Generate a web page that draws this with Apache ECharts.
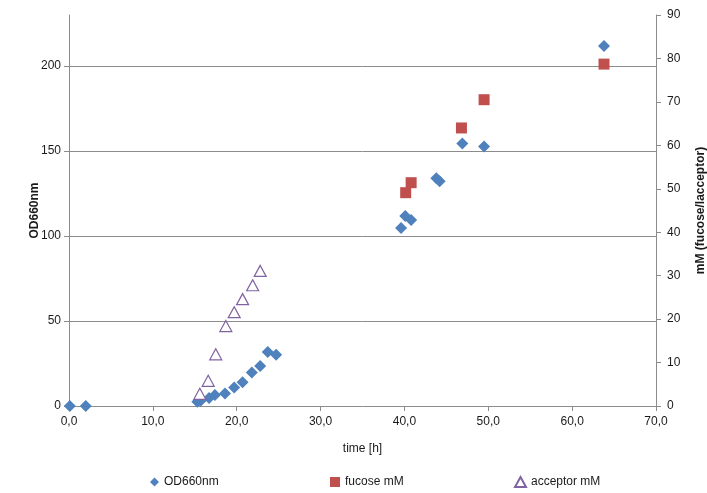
<!DOCTYPE html>
<html>
<head>
<meta charset="utf-8">
<script src="https://cdn.jsdelivr.net/npm/echarts@6/dist/echarts.min.js"></script>
<style>
  html, body { margin: 0; padding: 0; background: #fff; }
  #chart { width: 707px; height: 493px; }
</style>
</head>
<body>
<div id="chart"></div>
<script>
// OD660nm (left axis)
var odTime = [0.1, 2.0, 15.3, 15.7, 16.7, 17.4, 18.6, 19.7, 20.7, 21.8, 22.8, 23.7, 24.7,
              39.6, 40.1, 40.8, 43.8, 44.2, 46.9, 49.5, 63.8];
var odValue = [0, 0, 2.5, 3.1, 4.7, 6.4, 7.4, 10.9, 13.9, 19.7, 23.6, 31.8, 30.2,
               104.7, 111.7, 109.4, 133.9, 132.2, 154.4, 152.6, 211.7];
// fucose mM (right axis)
var fucTime = [40.15, 40.8, 46.8, 49.5, 63.8];
var fucValue = [49.1, 51.4, 64.0, 70.5, 78.7];
// acceptor mM (right axis)
var accTime = [15.6, 16.6, 17.5, 18.7, 19.7, 20.7, 21.9, 22.8];
var accValue = [2.8, 5.8, 11.9, 18.4, 21.6, 24.6, 27.8, 31.1];
// left axis ticks
var odTicks = [0, 50, 100, 150, 200];

function pairs(xs, ys) {
    var out = [];
    xs.forEach(function (x, i) { out.push([x, ys[i]]); });
    return out;
}

var font = 'Liberation Sans, Arial, sans-serif';
var axisGray = '#8c8c8c';
var textCol = '#1a1a1a';

var myChart = echarts.init(document.getElementById('chart'));
myChart.setOption({
    animation: false,
    textStyle: { fontFamily: font },
    grid: { left: 69, right: 51, top: 15, bottom: 87, outerBoundsMode: 'none', containLabel: false },
    legend: [
        { left: 145, top: 471, itemWidth: 9, itemHeight: 9, itemGap: 0,
          textStyle: { fontSize: 12, color: textCol, fontFamily: font }, data: ['OD660nm'] },
        { left: 325, top: 471, itemWidth: 10, itemHeight: 10,
          textStyle: { fontSize: 12, color: textCol, fontFamily: font }, data: ['fucose mM'] },
        { left: 509, top: 471, itemWidth: 11, itemHeight: 10,
          textStyle: { fontSize: 12, color: textCol, fontFamily: font }, data: ['acceptor mM'] }
    ],
    xAxis: {
        type: 'value', min: 0, max: 70, interval: 10,
        name: 'time [h]', nameLocation: 'middle', nameGap: 37,
        nameTextStyle: { fontSize: 12, color: textCol },
        axisLine: { lineStyle: { color: axisGray } },
        axisTick: { show: true, length: 5, lineStyle: { color: axisGray } },
        axisLabel: { fontSize: 12, color: textCol, margin: 10,
            formatter: function (v) { return v.toFixed(1).replace('.', ','); } },
        splitLine: { show: false }
    },
    yAxis: [
        {
            type: 'value', min: 0, max: 230, interval: 50,
            name: 'OD660nm', nameLocation: 'middle', nameGap: 28, nameRotate: 90,
            nameMoveOverlap: false,
            nameTextStyle: { fontSize: 12, fontWeight: 'bold', color: textCol },
            axisLine: { show: true, lineStyle: { color: axisGray } },
            axisTick: { show: true, length: 5, customValues: odTicks, lineStyle: { color: axisGray } },
            axisLabel: { fontSize: 12, color: textCol, margin: 8, customValues: odTicks },
            splitLine: { show: true, showMinLine: false,
                lineStyle: { color: axisGray, width: 1 } }
        },
        {
            type: 'value', min: 0, max: 90, interval: 10, position: 'right',
            name: 'mM (fucose/lacceptor)', nameLocation: 'middle', nameGap: 39, nameRotate: 90,
            nameTextStyle: { fontSize: 12, fontWeight: 'bold', color: textCol },
            axisLine: { show: true, lineStyle: { color: axisGray } },
            axisTick: { show: true, length: 5, lineStyle: { color: axisGray } },
            axisLabel: { fontSize: 12, color: textCol, margin: 11 },
            splitLine: { show: false }
        }
    ],
    series: [
        {
            name: 'OD660nm', type: 'scatter', yAxisIndex: 0,
            symbol: 'diamond', symbolSize: 12,
            itemStyle: { color: '#4f81bd', opacity: 1 },
            data: pairs(odTime, odValue)
        },
        {
            name: 'fucose mM', type: 'scatter', yAxisIndex: 1,
            symbol: 'rect', symbolSize: 11,
            itemStyle: { color: '#c0504d', opacity: 1 },
            data: pairs(fucTime, fucValue)
        },
        {
            name: 'acceptor mM', type: 'scatter', yAxisIndex: 1,
            symbol: 'triangle', symbolSize: [12, 11],
            itemStyle: { color: '#ffffff', borderColor: '#8064a2', borderWidth: 1.2, opacity: 1 },
            data: pairs(accTime, accValue)
        }
    ]
});
</script>
</body>
</html>
